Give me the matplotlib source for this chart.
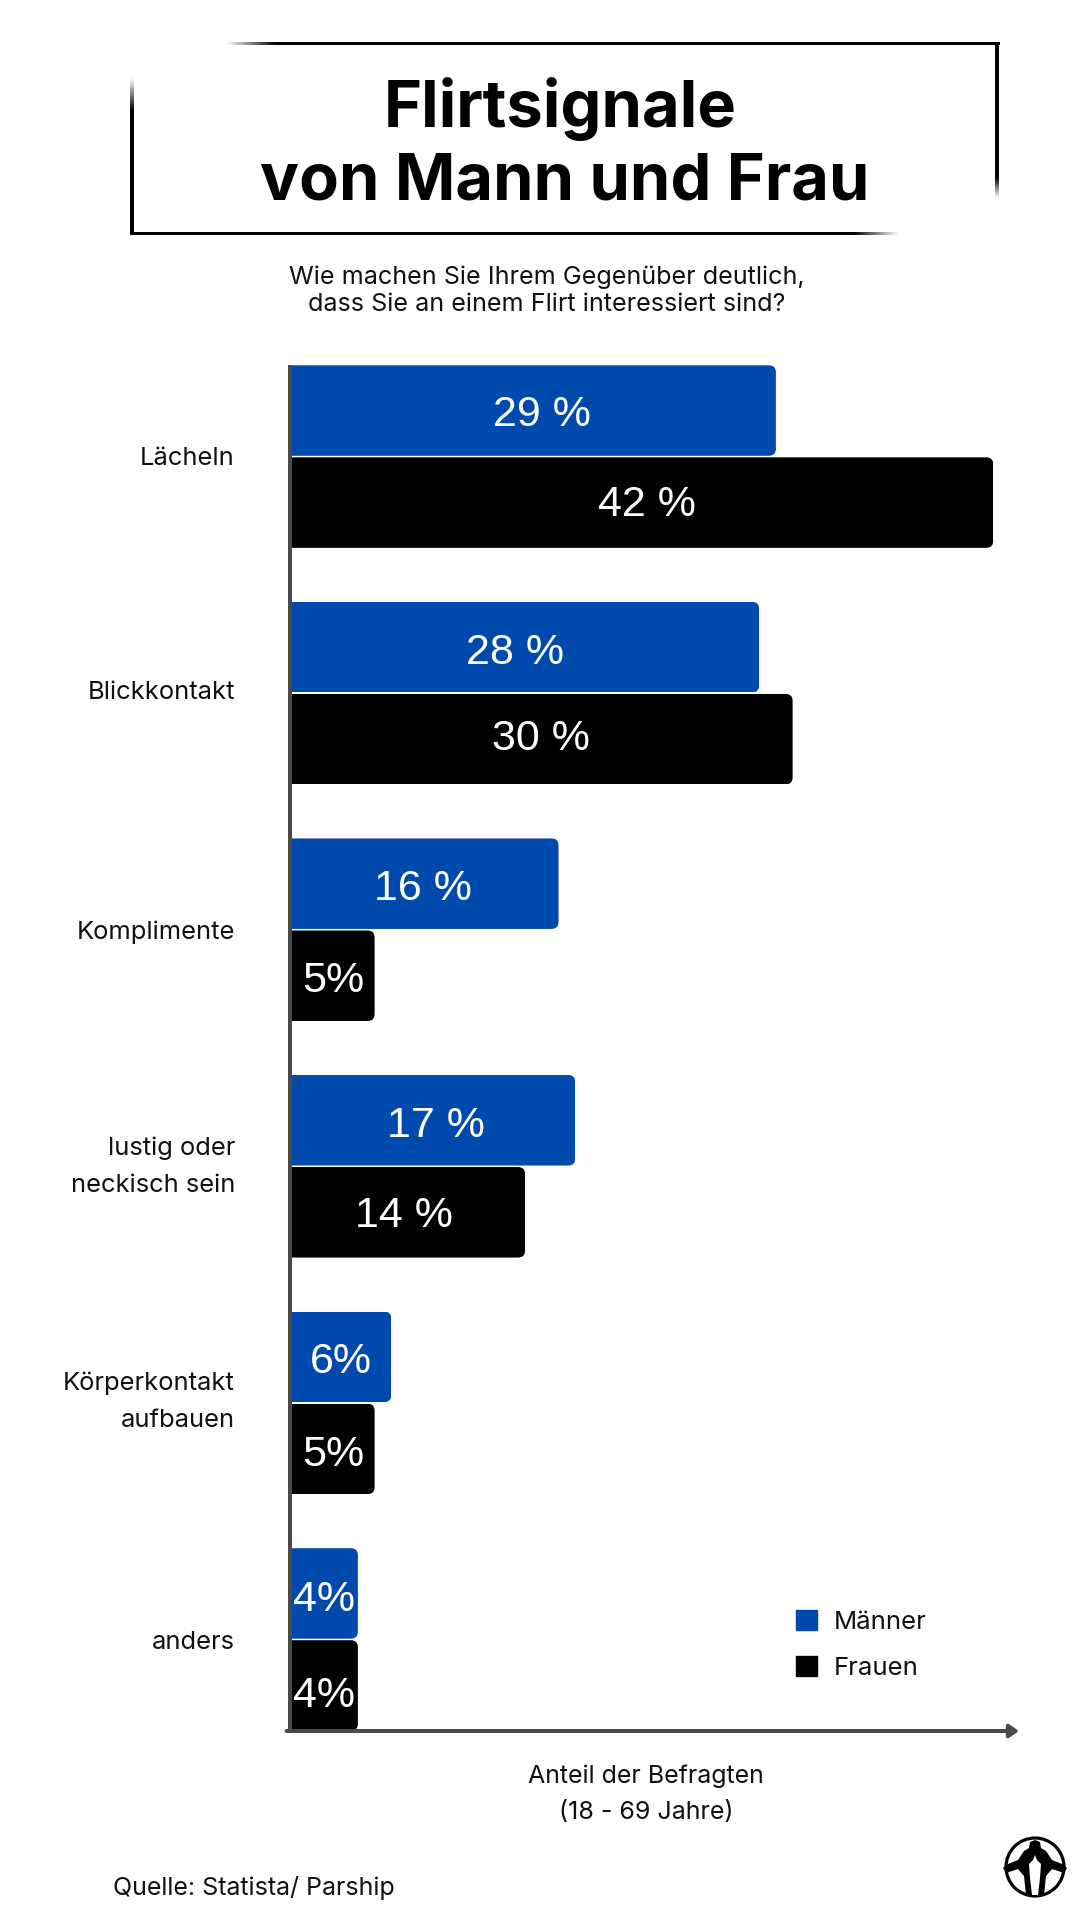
import numpy as np
import matplotlib
matplotlib.use('Agg')
import matplotlib.pyplot as plt
from matplotlib.path import Path
from matplotlib.patches import Patch, Circle, Polygon

categories = ['Lächeln', 'Blickkontakt', 'Komplimente', 'lustig oder\nneckisch sein', 'Körperkontakt\naufbauen', 'anders']
maenner = [29, 28, 16, 17, 6, 4]
frauen = [42, 30, 5, 14, 5, 4]
maenner_labels = ['29 %', '28 %', '16 %', '17 %', '6%', '4%']
frauen_labels = ['42 %', '30 %', '5%', '14 %', '5%', '4%']
title_lines = ['Flirtsignale', 'von Mann und Frau']
subtitle = 'Wie machen Sie Ihrem Gegenüber deutlich,\ndass Sie an einem Flirt interessiert sind?'
xlabel = 'Anteil der Befragten\n(18 - 69 Jahre)'
source = 'Quelle: Statista/ Parship'

BLUE = '#004aad'
AXIS = '#4a4a48'
W, H = 1080, 1920
PX = 0.72  # one pixel in points at dpi 100
UNIT = 16.72  # pixels per percent

# hand placed nudges of the texts, in pixels
m_dx, m_dy = [8, -10, -2, 2.5, 0, 0], [0, 1, 1, 1, 1, 2]
f_dx, f_dy = [5, -1, 0, -4, 0, 0], [-2, -5, 1, -1, 2, 6]
cat_up = [-2, 0.5, -3, 0, 1, -3.5]

plt.rcParams['font.family'] = ['Inter', 'DejaVu Sans']

fig = plt.figure(figsize=(W / 100, H / 100), dpi=100, facecolor='white')

# overlay in pixel coordinates for the decoration
bg = fig.add_axes([0, 0, 1, 1])
bg.axis('off')


def fade_line(x0, x1, y0, y1, horizontal, fade_start, fade_end):
    # black line whose alpha goes from 0 to 1 between fade_start and fade_end
    n = 300
    if horizontal:
        pos = np.linspace(x0, x1, n)
    else:
        pos = np.linspace(y0, y1, n)
    alpha = np.clip((pos - fade_start) / (fade_end - fade_start), 0, 1)
    rgba = np.zeros((n, 1, 4))
    rgba[:, 0, 3] = alpha
    if horizontal:
        rgba = rgba.transpose(1, 0, 2)
    bg.imshow(rgba, extent=[x0, x1, y1, y0], aspect='auto', interpolation='bilinear')


fade_line(220, 1000, 42, 45, True, 225, 275)
fade_line(130, 900, 232, 235, True, 900, 855)
fade_line(130, 134, 75, 235, False, 78, 110)
fade_line(995, 999, 42, 198, False, 198, 178)

bg.set_xlim(0, W)
bg.set_ylim(H, 0)

bg.text(560, 127, title_lines[0], ha='center', va='baseline', fontsize=46.8, fontweight='bold', color='black')
bg.text(565, 200, title_lines[1], ha='center', va='baseline', fontsize=46.8, fontweight='bold', color='black')
bg.text(547, 291, subtitle, ha='center', va='center', fontsize=18.1, linespacing=1.2, color='#111111', multialignment='center')
bg.text(646, 1794, xlabel, ha='center', va='center', fontsize=18, linespacing=1.72, color='#111111', multialignment='center')
bg.text(113, 1888, source, ha='left', va='center', fontsize=18, color='#111111')

# logo
bg.add_patch(Circle((1035, 1867), 29, fc='white', ec='black', lw=2.3))
bg.add_patch(Polygon([(1003, 1868), (1008, 1864), (1018, 1860), (1024, 1851), (1029, 1848), (1030, 1842),
                      (1035, 1840), (1040, 1842), (1041, 1848), (1046, 1851), (1052, 1860), (1062, 1864),
                      (1067, 1868), (1064, 1873), (1052, 1869), (1046, 1876), (1044, 1895), (1026, 1895),
                      (1024, 1876), (1018, 1869), (1006, 1873)], fc='black', ec='none'))
bg.add_patch(Polygon([(1033, 1860), (1035, 1855), (1037, 1860), (1041, 1864), (1040, 1878), (1038, 1895),
                      (1032, 1895), (1030, 1878), (1029, 1864)], fc='white', ec='none'))

# chart
left, right, top, bottom = 291, 1019, 365, 1731
ax = fig.add_axes([left / W, 1 - bottom / H, (right - left) / W, (bottom - top) / H])
ax.patch.set_alpha(0)
ax.set_xlim(0, (right - left) / UNIT)
ax.set_ylim(5.387, -0.387)

y = np.arange(len(categories))
bar_h = 0.3825
bars_m = ax.barh(y - 0.1945, maenner, height=bar_h, color=BLUE, label='Männer')
bars_f = ax.barh(y + 0.1945, frauen, height=bar_h, color='black', label='Frauen')


def round_right(bar, r_px=7):
    # rounded right corners: clip the bar to a rounded outline
    rx = r_px / UNIT
    ry = r_px / 236.6
    x0, y0 = bar.get_x(), bar.get_y()
    x1, y1 = x0 + bar.get_width(), y0 + bar.get_height()
    verts = [(x0 - 1, y0), (x1 - rx, y0), (x1, y0), (x1, y0 + ry), (x1, y1 - ry), (x1, y1),
             (x1 - rx, y1), (x0 - 1, y1), (x0 - 1, y0)]
    codes = [Path.MOVETO, Path.LINETO, Path.CURVE3, Path.CURVE3, Path.LINETO, Path.CURVE3,
             Path.CURVE3, Path.LINETO, Path.CLOSEPOLY]
    bar.set_clip_path(Path(verts, codes), ax.transData)


for group, labels, dx, dy in [(bars_m, maenner_labels, m_dx, m_dy), (bars_f, frauen_labels, f_dx, f_dy)]:
    for bar, lab, nx, ny in zip(group, labels, dx, dy):
        round_right(bar)
        ax.annotate(lab, xy=(bar.get_width() / 2, bar.get_y() + bar.get_height() / 2),
                    xytext=(nx * PX, -ny * PX), textcoords='offset points', ha='center', va='center_baseline',
                    color='white', fontsize=31, family='Liberation Sans')

ax.set_xticks([])
ax.set_yticks([])
for i, cat in enumerate(categories):
    ax.annotate(cat, xy=(0, i), xytext=(-56 * PX, cat_up[i] * PX), textcoords='offset points', ha='right', va='center',
                multialignment='right', fontsize=18.4, linespacing=1.78, color='#111111')

for s in ['top', 'right', 'bottom']:
    ax.spines[s].set_visible(False)
ax.spines['left'].set_color(AXIS)
ax.spines['left'].set_linewidth(2.9)
ax.spines['left'].set_capstyle('butt')
ax.spines['left'].set_position(('outward', 0.7))

ax.annotate('', xy=(1, 0), xytext=(-0.006, 0), xycoords='axes fraction',
            arrowprops=dict(arrowstyle='-|>,head_length=0.55,head_width=0.38', lw=2.9, color=AXIS, shrinkA=0, shrinkB=0))

handles = [Patch(color=BLUE, label='Männer'), Patch(color='black', label='Frauen')]
fig.legend(handles=handles, loc='upper left', bbox_to_anchor=(796 / W, 1 - 1610 / H), frameon=False, fontsize=18.5,
           handlelength=0.82, handleheight=0.82, handletextpad=0.66, labelspacing=0.85, borderpad=0, borderaxespad=0,
           labelcolor='#111111')

fig.savefig('out.png', dpi=100)
